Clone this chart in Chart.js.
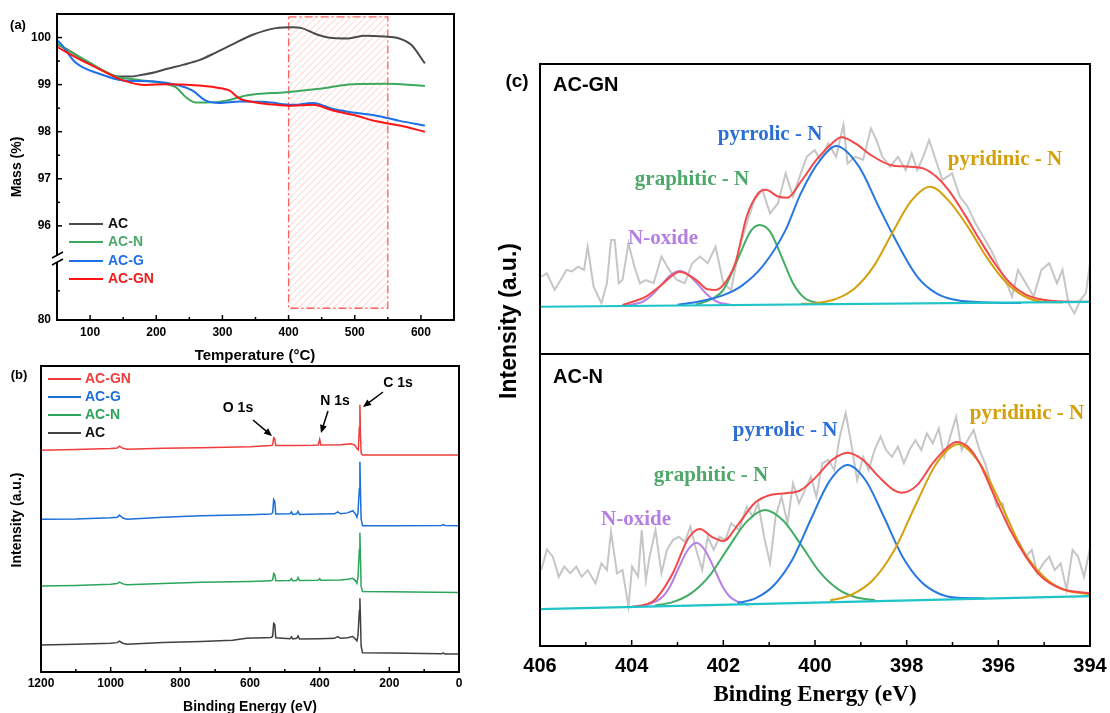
<!DOCTYPE html>
<html>
<head>
<meta charset="utf-8">
<script src="https://cdn.jsdelivr.net/npm/chart.js@4.4.1/dist/chart.umd.min.js"></script>
<style>
  body { margin: 0; background: #fff; width: 1110px; height: 713px; overflow: hidden; position: relative; }
  canvas { position: absolute; left: 0; top: 0; }
</style>
</head>
<body>
<canvas id="chartA" width="1110" height="713"></canvas>
<canvas id="chartB" width="1110" height="713"></canvas>
<canvas id="chartC1" width="1110" height="713"></canvas>
<canvas id="chartC2" width="1110" height="713"></canvas>
<script>
// ---------- (a) TGA ----------
var seriesA = ["AC", "AC-N", "AC-G", "AC-GN"];
var tempAC = [50,65,80,100,120,140,160,179,200,215,240,265,290,316,346,381,406,420,440,460,490,515,545,565,585,606];
var massAC = [99.86,99.75,99.62,99.45,99.29,99.18,99.17,99.21,99.27,99.33,99.42,99.52,99.68,99.86,100.06,100.20,100.22,100.20,100.08,100.0,99.98,100.04,100.02,99.99,99.85,99.45];
var tempACN = [50,65,80,100,120,140,174,215,230,245,260,275,306,336,396,447,497,548,606];
var massACN = [99.87,99.74,99.62,99.46,99.30,99.17,99.10,99.01,98.94,98.73,98.62,98.62,98.66,98.77,98.84,98.91,99.01,99.02,98.97];
var tempACG = [50,55,78,114,150,194,235,255,275,295,326,366,406,437,467,497,533,568,606];
var massACG = [99.94,99.88,99.47,99.23,99.09,99.07,98.98,98.87,98.66,98.61,98.64,98.63,98.57,98.61,98.48,98.41,98.34,98.23,98.13];
var tempACGN = [50,88,114,150,184,215,265,290,311,326,346,381,406,437,467,497,533,568,606];
var massACGN = [99.80,99.51,99.33,99.09,98.99,99.01,98.98,98.94,98.87,98.70,98.63,98.57,98.55,98.57,98.45,98.36,98.22,98.13,98.00];
var tempTicks = [100,200,300,400,500,600];
var tempMinor = [150,250,350,450,550];
// broken axis: 94 on the drawn scale stands for 80 %
var massTicks = [94,96,97,98,99,100];
var massTickLabels = ["80","96","97","98","99","100"];
var massMinor = [94.62,96.5,97.5,98.5,99.5];
var hatchTemp = [400,550];
var hatchMass = [94.25,100.44];

// ---------- (b) XPS survey ----------
var seriesB = ["AC-GN", "AC-G", "AC-N", "AC"];
var surveyGN = [[1200,72.5],[1100,72.7],[1000,73.0],[981,73.2],[975,73.8],[965,73.1],[953,72.8],[850,73.1],[741,73.3],[600,73.6],[540,74.0],[535,74.2],[532,76.6],[529,76.3],[526,74.0],[480,74.0],[420,74.1],[404,74.2],[400,76.0],[397,74.2],[340,74.3],[310,74.6],[300,74.2],[293,73.0],[289,72.6],[286,80],[284.5,87.3],[283,78],[281,71.5],[277,70.9],[200,70.9],[100,70.9],[0,70.9]];
var surveyG = [[1200,49.9],[1100,50.0],[1000,50.4],[981,50.6],[975,51.3],[965,50.3],[953,49.9],[850,50.6],[741,51.1],[600,51.4],[540,51.6],[535,52.0],[532,56.4],[529,55.8],[526,51.6],[485,51.7],[481,52.3],[477,51.5],[466,51.7],[462,52.5],[458,51.5],[400,51.6],[358,51.7],[348,52.3],[340,51.7],[320,52.0],[305,52.7],[297,51.6],[293,50.6],[290,52],[286,60],[284.5,68.7],[283,60],[281,50.0],[277,47.8],[200,47.8],[50,47.9],[45,48.2],[40,47.9],[0,47.8]];
var surveyN = [[1200,28.1],[1100,28.3],[1000,28.7],[981,28.9],[975,29.4],[965,28.8],[953,28.5],[850,28.9],[741,29.3],[600,29.6],[540,29.8],[535,30.1],[532,32.2],[529,31.9],[526,29.8],[485,29.9],[481,30.5],[477,29.8],[466,29.9],[462,30.9],[458,29.9],[404,30.0],[400,30.5],[396,30.0],[340,30.1],[320,30.3],[305,30.6],[297,29.8],[293,29.0],[290,31],[286,40],[284.5,45.5],[283,38],[281,28],[277,26.3],[200,26.2],[0,26.0]];
var surveyAC = [[1200,8.8],[1100,9.1],[1000,9.4],[981,9.6],[975,10.1],[965,9.4],[953,9.1],[850,9.6],[741,10.0],[650,10.4],[610,11.0],[590,11.1],[560,11.2],[540,11.3],[535,11.6],[532,15.9],[529,15.6],[526,11.2],[485,10.9],[481,11.5],[477,10.8],[466,11.0],[462,11.8],[458,10.8],[400,10.9],[358,11.0],[348,11.6],[340,11.0],[320,11.2],[305,11.6],[297,10.7],[293,10.2],[290,12],[286,20],[284.5,24.1],[283,18],[281,8.5],[277,6.3],[200,6.2],[50,6.0],[45,6.2],[40,5.9],[0,5.9]];
var beTicks = [0,200,400,600,800,1000,1200];
var beMinor = [100,300,500,700,900,1100];

// ---------- (c) N 1s high resolution ----------
var peakNames = ["N-oxide", "graphitic - N", "pyrrolic - N", "pyridinic - N"];
var topBE = [405.97,405.85,405.68,405.55,405.42,405.30,405.17,405.04,404.96,404.83,404.66,404.54,404.45,404.37,404.28,404.20,404.07,403.94,403.82,403.69,403.52,403.35,403.18,403.01,402.84,402.68,402.51,402.34,402.17,402.00,401.83,401.66,401.49,401.32,401.15,400.98,400.81,400.64,400.48,400.31,400.18,400.01,399.88,399.71,399.54,399.38,399.29,399.12,398.95,398.78,398.66,398.53,398.36,398.19,398.02,397.89,397.77,397.64,397.51,397.39,397.22,397.01,396.84,396.67,396.50,396.33,396.16,395.99,395.82,395.70,395.57,395.40,395.23,395.06,394.89,394.72,394.60,394.47,394.34,394.21,394.09,394.00];
var topRaw = [26.7,27.8,22.1,25.5,29.0,28.5,30.1,29.0,37.0,23.2,17.5,24.4,39.3,39.3,24.4,25.5,38.2,30.1,24.4,25.5,24.4,33.6,29.0,25.5,24.4,31.3,33.6,31.3,37.0,24.4,22.1,35.9,45.1,53.1,56.6,48.5,51.9,62.3,54.3,62.3,68.0,70.3,67.0,72.6,68.0,79.0,65.7,68.0,67.0,77.8,73.8,68.0,64.6,68.0,63.4,69.2,63.4,68.0,73.8,68.0,60.0,62.3,54.3,50.8,45.1,40.5,35.9,30.1,24.4,19.8,29.0,24.4,19.8,29.0,31.3,24.4,29.0,17.5,14.0,18.6,20.9,31.3];
var topBase = [[406,16.3],[394,18.0]];
var topOxide = [[404.15,16.6],[403.75,18.1],[403.55,20.4],[403.35,23.9],[403.15,27.2],[402.95,28.6],[402.75,27.2],[402.55,23.9],[402.35,20.4],[402.15,18.1],[401.75,16.7]];
var topGraphitic = [[402.6,17.0],[402.25,19.0],[402.0,22.1],[401.66,33.6],[401.41,42.2],[401.21,44.5],[400.98,42.2],[400.73,33.6],[400.48,24.4],[400.22,19.2],[399.88,17.5],[399.6,17.2]];
var topPyrrolic = [[403.0,17.0],[402.5,18.2],[402.0,20.3],[401.6,23.5],[401.15,30.1],[400.64,42.8],[400.31,55.4],[399.88,67.0],[399.54,71.7],[399.04,64.6],[398.61,50.8],[398.28,40.5],[397.77,26.7],[397.35,20.9],[396.92,18.6],[396.08,17.7],[395.5,17.6]];
var topPyridinic = [[400.3,17.3],[399.95,17.6],[399.54,19.0],[399.13,22.7],[398.72,30.2],[398.31,41.9],[397.9,52.8],[397.49,57.7],[397.08,52.8],[396.67,44.0],[396.26,33.5],[395.85,25.0],[395.44,20.0],[395.03,18.0],[394.6,17.8]];
var topEnvelope = [[404.2,16.9],[403.69,19.8],[403.35,23.8],[402.95,28.4],[402.59,25.5],[402.34,22.3],[402.17,22.1],[402.0,23.8],[401.74,31.3],[401.49,47.4],[401.24,55.4],[401.07,56.6],[400.81,54.3],[400.6,53.9],[400.31,59.4],[399.97,66.9],[399.63,72.6],[399.42,74.7],[399.12,72.6],[398.78,68.6],[398.36,65.2],[397.94,64.6],[397.64,64.0],[397.35,61.1],[397.09,56.6],[396.75,48.5],[396.41,39.5],[396.08,31.3],[395.74,24.4],[395.4,20.5],[394.98,18.6],[394.38,18.0],[394.0,18.0]];

var botBE = [405.97,405.85,405.72,405.59,405.47,405.34,405.21,405.09,404.96,404.79,404.66,404.54,404.45,404.32,404.20,404.07,403.99,403.86,403.78,403.69,403.61,403.48,403.35,403.23,403.10,402.97,402.84,402.72,402.59,402.46,402.34,402.21,402.08,401.96,401.83,401.66,401.49,401.36,401.24,401.11,400.98,400.86,400.73,400.60,400.48,400.35,400.22,400.09,399.97,399.84,399.71,399.58,399.46,399.33,399.21,399.08,398.95,398.83,398.70,398.57,398.45,398.32,398.19,398.06,397.94,397.81,397.68,397.56,397.43,397.30,397.18,397.05,396.92,396.80,396.67,396.54,396.41,396.29,396.16,396.03,395.91,395.78,395.65,395.53,395.40,395.27,395.15,395.02,394.89,394.77,394.64,394.51,394.38,394.26,394.13,394.00];
var botRaw = [26.0,33.1,30.6,23.7,27.2,24.9,27.2,23.7,26.0,21.5,28.3,26.0,39.2,24.9,26.0,13.5,27.2,23.7,39.7,22.6,30.6,39.7,24.9,32.9,36.3,37.4,35.7,40.9,32.9,26.0,37.4,32.9,37.4,36.3,42.0,39.7,47.7,44.3,48.9,37.4,28.3,44.3,51.1,42.0,55.7,48.9,53.4,58.0,51.1,62.6,63.7,60.3,71.7,79.7,69.4,56.8,64.8,60.3,67.1,71.7,67.1,64.8,68.3,62.6,67.1,70.5,67.1,72.8,69.4,74.5,64.8,71.7,78.5,67.1,70.5,74.0,67.1,62.6,55.7,47.7,48.9,40.9,37.4,35.2,30.6,32.9,24.9,28.3,30.6,26.0,28.3,19.2,32.9,30.6,23.7,33.4];
var botBase = [[406,12.6],[394,17.1]];
var botOxide = [[403.73,13.7],[403.35,16.5],[403.16,20.5],[402.97,26.9],[402.78,32.8],[402.59,35.4],[402.40,32.8],[402.21,26.9],[402.02,20.5],[401.83,16.5],[401.45,14.0]];
var botGraphitic = [[403.49,13.9],[403.09,15.1],[402.69,18.2],[402.29,24.3],[401.89,33.7],[401.49,42.6],[401.09,46.6],[400.69,42.9],[400.29,34.3],[399.89,25.2],[399.49,19.4],[399.09,16.6],[398.69,15.7]];
var botPyrrolic = [[401.69,14.7],[401.29,16.4],[400.89,20.9],[400.49,29.7],[400.09,43.4],[399.69,56.3],[399.29,62.0],[398.89,56.6],[398.49,44.0],[398.09,30.6],[397.69,22.1],[397.29,17.9],[396.89,16.5],[396.3,16.3]];
var botPyridinic = [[399.67,15.6],[399.21,17.5],[398.74,22.5],[398.28,32.5],[397.81,48.1],[397.35,62.5],[396.88,69.1],[396.42,62.9],[395.95,48.8],[395.49,33.5],[395.02,23.9],[394.56,19.2],[394.0,17.7]];
var botEnvelope = [[404.03,13.3],[403.52,15.5],[403.1,25.0],[402.76,37.0],[402.51,40.1],[402.25,37.4],[402.0,36.0],[401.66,42.0],[401.32,48.9],[400.98,51.7],[400.64,52.3],[400.31,53.4],[399.97,58.0],[399.63,63.7],[399.29,66.2],[398.95,63.7],[398.61,58.0],[398.28,53.4],[398.11,52.5],[397.77,55.1],[397.43,62.6],[397.09,68.3],[396.92,69.9],[396.67,68.3],[396.41,62.6],[396.08,51.1],[395.74,39.7],[395.4,30.6],[395.06,23.7],[394.64,19.7],[394.0,18.0]];
var hrTicks = [394,396,398,400,402,404,406];
var hrMinor = [395,397,399,401,403,405];

var SANS = '"Liberation Sans", Arial, sans-serif';
var SERIF = '"Liberation Serif", "Times New Roman", serif';

function xy(xs, ys) { return xs.map(function (x, i) { return { x: x, y: ys[i] }; }); }
function pts(p) { return p.map(function (d) { return { x: d[0], y: d[1] }; }); }
function plain(v) { return String(v); }

// scale with a fixed box size (labels are clipped to the box, so it must hold them)
function axis(extra, size) {
  return Object.assign({
    type: 'linear',
    grid: { display: false, drawTicks: false },
    border: { display: false },
    afterFit: function (s) {
      if (s.isHorizontal()) { s.height = size || 0; s.paddingLeft = 0; s.paddingRight = 0; }
      else { s.width = size || 0; s.paddingTop = 0; s.paddingBottom = 0; }
    }
  }, extra);
}

function drawText(ctx, t) {
  ctx.save();
  ctx.font = t.font;
  ctx.fillStyle = t.color || '#000';
  ctx.textAlign = t.align || 'center';
  ctx.textBaseline = 'middle';
  ctx.translate(t.x, t.y);
  if (t.rot) ctx.rotate(t.rot);
  ctx.fillText(t.t, 0, 0);
  ctx.restore();
}

// frame, inward ticks, free text, extra drawing
function decor(spec) {
  return {
    id: 'decor',
    beforeDatasetsDraw: function (chart) { if (spec.under) spec.under(chart); },
    afterDraw: function (chart) {
      var ctx = chart.ctx, a = chart.chartArea;
      ctx.save();
      ctx.strokeStyle = '#000';
      ctx.lineWidth = 2;
      ctx.strokeRect(a.left, a.top, a.right - a.left, a.bottom - a.top);
      (spec.ticks || []).forEach(function (t) {
        var s = chart.scales[t.axis];
        ctx.lineWidth = 1.5;
        t.values.forEach(function (v) {
          var p = s.getPixelForValue(v);
          ctx.beginPath();
          if (t.axis === 'x') { ctx.moveTo(p, a.bottom); ctx.lineTo(p, a.bottom - t.len); }
          else { ctx.moveTo(a.left, p); ctx.lineTo(a.left + t.len, p); }
          ctx.stroke();
        });
      });
      ctx.restore();
      if (spec.over) spec.over(chart);
      (spec.texts || []).forEach(function (t) { drawText(ctx, t); });
    }
  };
}

// area = [left, top, right, bottom] of the plot box on the page
function baseOptions(area, scales, xH, yW) {
  return {
    responsive: false,
    animation: false,
    devicePixelRatio: 1,
    events: [],
    layout: { padding: { left: area[0] - (yW || 0), top: area[1], right: 1110 - area[2], bottom: 713 - area[3] - (xH || 0) } },
    plugins: { legend: { display: false }, tooltip: { enabled: false } },
    elements: { point: { radius: 0 }, line: { borderWidth: 2 } },
    scales: scales
  };
}

function arrow(ctx, x0, y0, x1, y1) {
  var ang = Math.atan2(y1 - y0, x1 - x0);
  ctx.save();
  ctx.strokeStyle = '#000'; ctx.fillStyle = '#000'; ctx.lineWidth = 1.5;
  ctx.beginPath(); ctx.moveTo(x0, y0);
  ctx.lineTo(x1 - 6 * Math.cos(ang), y1 - 6 * Math.sin(ang)); ctx.stroke();
  ctx.beginPath();
  ctx.moveTo(x1, y1);
  ctx.lineTo(x1 - 8 * Math.cos(ang) + 3.5 * Math.sin(ang), y1 - 8 * Math.sin(ang) - 3.5 * Math.cos(ang));
  ctx.lineTo(x1 - 8 * Math.cos(ang) - 3.5 * Math.sin(ang), y1 - 8 * Math.sin(ang) + 3.5 * Math.cos(ang));
  ctx.closePath(); ctx.fill();
  ctx.restore();
}

// ---------- chart (a) ----------
var colorsA = ['#4a4a4a', '#3da95c', '#1d6fe8', '#ff1414'];
var legendColorsA = ['#111', '#4aa86a', '#1f6fe6', '#ee1c1c'];
new Chart(document.getElementById('chartA'), {
  type: 'line',
  data: {
    datasets: [
      { label: seriesA[3], data: xy(tempACGN, massACGN), borderColor: colorsA[3], cubicInterpolationMode: 'monotone' },
      { label: seriesA[2], data: xy(tempACG, massACG), borderColor: colorsA[2], cubicInterpolationMode: 'monotone' },
      { label: seriesA[1], data: xy(tempACN, massACN), borderColor: colorsA[1], cubicInterpolationMode: 'monotone' },
      { label: seriesA[0], data: xy(tempAC, massAC), borderColor: colorsA[0], cubicInterpolationMode: 'monotone' }
    ]
  },
  options: baseOptions([57, 14, 454, 320], {
    x: axis({ min: 50, max: 650,
      afterBuildTicks: function (s) { s.ticks = tempTicks.map(function (v) { return { value: v }; }); },
      ticks: { padding: 5, maxRotation: 0, autoSkip: false, color: '#000', callback: plain,
        font: { family: SANS, size: 12, weight: 'bold' } } }, 26),
    y: axis({ min: 94, max: 100.5,
      afterBuildTicks: function (s) { s.ticks = massTicks.map(function (v) { return { value: v }; }); },
      ticks: { padding: 6, autoSkip: false, color: '#000', font: { family: SANS, size: 12, weight: 'bold' },
        callback: function (v, i) { return massTickLabels[i]; } } }, 30)
  }, 26, 30),
  plugins: [decor({
    ticks: [
      { axis: 'x', values: tempTicks, len: 5 }, { axis: 'x', values: tempMinor, len: 3 },
      { axis: 'y', values: massTicks, len: 5 }, { axis: 'y', values: massMinor, len: 3 }
    ],
    texts: [
      { t: '(a)', x: 18, y: 25, font: 'bold 13px ' + SANS },
      { t: 'Mass (%)', x: 17, y: 167, rot: -Math.PI / 2, font: 'bold 14px ' + SANS },
      { t: 'Temperature (°C)', x: 255, y: 356, font: 'bold 15px ' + SANS }
    ],
    under: function (chart) {
      var ctx = chart.ctx, sx = chart.scales.x, sy = chart.scales.y;
      var x0 = sx.getPixelForValue(hatchTemp[0]), x1 = sx.getPixelForValue(hatchTemp[1]);
      var y0 = sy.getPixelForValue(hatchMass[1]), y1 = sy.getPixelForValue(hatchMass[0]);
      ctx.save();
      ctx.beginPath(); ctx.rect(x0, y0, x1 - x0, y1 - y0); ctx.clip();
      ctx.strokeStyle = 'rgba(255,110,110,0.38)'; ctx.lineWidth = 1;
      ctx.beginPath();
      for (var k = x0 - (y1 - y0); k < x1; k += 7) { ctx.moveTo(k, y1); ctx.lineTo(k + (y1 - y0), y0); }
      ctx.stroke();
      ctx.restore();
      ctx.save();
      ctx.setLineDash([8, 3, 2, 3]);
      ctx.strokeStyle = '#ff5e5e'; ctx.lineWidth = 1.3;
      ctx.strokeRect(x0, y0, x1 - x0, y1 - y0);
      ctx.restore();
    },
    over: function (chart) {
      var ctx = chart.ctx;
      // axis break
      ctx.save();
      ctx.fillStyle = '#fff'; ctx.fillRect(54, 256, 7, 6);
      ctx.strokeStyle = '#000'; ctx.lineWidth = 1.5;
      ctx.beginPath(); ctx.moveTo(52, 258); ctx.lineTo(63, 252); ctx.moveTo(52, 265); ctx.lineTo(63, 259); ctx.stroke();
      // legend
      var ly = [224, 242, 261, 279];
      seriesA.forEach(function (name, i) {
        ctx.strokeStyle = colorsA[i]; ctx.lineWidth = 2;
        ctx.beginPath(); ctx.moveTo(69, ly[i]); ctx.lineTo(103, ly[i]); ctx.stroke();
        drawText(ctx, { t: name, x: 108, y: ly[i], align: 'left', color: legendColorsA[i], font: 'bold 14px ' + SANS });
      });
      ctx.restore();
    }
  })]
});

// ---------- chart (b) ----------
var colorsB = ['#f03c3c', '#1a6fd8', '#2aa55a', '#404040'];
var legendColorsB = ['#f03c3c', '#1a6fd8', '#2aa55a', '#111'];
new Chart(document.getElementById('chartB'), {
  type: 'line',
  data: {
    datasets: [
      { label: seriesB[0], data: pts(surveyGN), borderColor: colorsB[0], borderWidth: 1.5 },
      { label: seriesB[1], data: pts(surveyG), borderColor: colorsB[1], borderWidth: 1.5 },
      { label: seriesB[2], data: pts(surveyN), borderColor: colorsB[2], borderWidth: 1.5 },
      { label: seriesB[3], data: pts(surveyAC), borderColor: colorsB[3], borderWidth: 1.5 }
    ]
  },
  options: baseOptions([41, 366, 459, 672], {
    x: axis({ min: 0, max: 1200, reverse: true,
      afterBuildTicks: function (s) { s.ticks = beTicks.map(function (v) { return { value: v }; }); },
      ticks: { padding: 4, maxRotation: 0, autoSkip: false, color: '#000', callback: plain,
        font: { family: SANS, size: 12, weight: 'bold' } } }, 24),
    y: axis({ min: 0, max: 100, display: false })
  }, 24, 0),
  plugins: [decor({
    ticks: [{ axis: 'x', values: beTicks, len: 5 }, { axis: 'x', values: beMinor, len: 3 }],
    texts: [
      { t: '(b)', x: 19, y: 375, font: 'bold 13px ' + SANS },
      { t: 'Intensity (a.u.)', x: 17, y: 520, rot: -Math.PI / 2, font: 'bold 14px ' + SANS },
      { t: 'Binding Energy (eV)', x: 250, y: 707, font: 'bold 14px ' + SANS },
      { t: 'O 1s', x: 238, y: 408, font: 'bold 14px ' + SANS },
      { t: 'N 1s', x: 335, y: 401, font: 'bold 14px ' + SANS },
      { t: 'C 1s', x: 398, y: 383, font: 'bold 14px ' + SANS }
    ],
    over: function (chart) {
      var ctx = chart.ctx;
      arrow(ctx, 253, 420, 272, 436);
      arrow(ctx, 328, 411, 321, 433);
      arrow(ctx, 383, 392, 363, 407);
      var ly = [379, 397, 415, 433];
      seriesB.forEach(function (name, i) {
        ctx.save();
        ctx.strokeStyle = colorsB[i]; ctx.lineWidth = 2;
        ctx.beginPath(); ctx.moveTo(48, ly[i]); ctx.lineTo(81, ly[i]); ctx.stroke();
        ctx.restore();
        drawText(ctx, { t: name, x: 85, y: ly[i], align: 'left', color: legendColorsB[i], font: 'bold 14px ' + SANS });
      });
    }
  })]
});

// ---------- chart (c) ----------
var cCol = { raw: '#c6c6c6', env: '#f24a4a', oxide: '#b67fe3', graphitic: '#43ad66', pyrrolic: '#2878e0', pyridinic: '#d4a00e', base: '#1ec4c8' };
var cText = { oxide: '#b47fe0', graphitic: '#4ea86a', pyrrolic: '#2b6fd6', pyridinic: '#d39f0a' };

function hrDatasets(be, raw, base, oxide, graphitic, pyrrolic, pyridinic, env) {
  var smooth = { cubicInterpolationMode: 'monotone' };
  return [
    { label: 'baseline', data: pts(base), borderColor: cCol.base, borderWidth: 2.2 },
    Object.assign({ label: 'fit', data: pts(env), borderColor: cCol.env }, smooth),
    Object.assign({ label: peakNames[3], data: pts(pyridinic), borderColor: cCol.pyridinic }, smooth),
    Object.assign({ label: peakNames[2], data: pts(pyrrolic), borderColor: cCol.pyrrolic }, smooth),
    Object.assign({ label: peakNames[1], data: pts(graphitic), borderColor: cCol.graphitic }, smooth),
    Object.assign({ label: peakNames[0], data: pts(oxide), borderColor: cCol.oxide }, smooth),
    { label: 'raw', data: xy(be, raw), borderColor: cCol.raw, borderWidth: 2 }
  ];
}

var hrX = { min: 394, max: 406, reverse: true,
  afterBuildTicks: function (s) { s.ticks = hrTicks.map(function (v) { return { value: v }; }); },
  ticks: { padding: 8, maxRotation: 0, autoSkip: false, color: '#000', callback: plain,
    font: { family: SANS, size: 20, weight: 'bold' } } };

new Chart(document.getElementById('chartC1'), {
  type: 'line',
  data: { datasets: hrDatasets(topBE, topRaw, topBase, topOxide, topGraphitic, topPyrrolic, topPyridinic, topEnvelope) },
  options: baseOptions([540, 64, 1090, 354], {
    x: axis(Object.assign({}, hrX, { display: false })),
    y: axis({ min: 0, max: 100, display: false })
  }, 0, 0),
  plugins: [decor({
    texts: [
      { t: '(c)', x: 517, y: 82, font: 'bold 19px ' + SANS },
      { t: 'Intensity (a.u.)', x: 510, y: 321, rot: -Math.PI / 2, font: 'bold 23px ' + SANS },
      { t: 'AC-GN', x: 553, y: 85, align: 'left', font: 'bold 20px ' + SANS },
      { t: peakNames[2], x: 770, y: 135, color: cText.pyrrolic, font: 'bold 21px ' + SERIF },
      { t: peakNames[1], x: 692, y: 180, color: cText.graphitic, font: 'bold 21px ' + SERIF },
      { t: peakNames[0], x: 663, y: 239, color: cText.oxide, font: 'bold 21px ' + SERIF },
      { t: peakNames[3], x: 1005, y: 160, color: cText.pyridinic, font: 'bold 21px ' + SERIF }
    ]
  })]
});

new Chart(document.getElementById('chartC2'), {
  type: 'line',
  data: { datasets: hrDatasets(botBE, botRaw, botBase, botOxide, botGraphitic, botPyrrolic, botPyridinic, botEnvelope) },
  options: baseOptions([540, 354, 1090, 646], {
    x: axis(hrX, 36),
    y: axis({ min: 0, max: 100, display: false })
  }, 36, 0),
  plugins: [decor({
    ticks: [{ axis: 'x', values: hrTicks, len: 6 }, { axis: 'x', values: hrMinor, len: 4 }],
    texts: [
      { t: 'AC-N', x: 553, y: 377, align: 'left', font: 'bold 20px ' + SANS },
      { t: peakNames[3], x: 1027, y: 414, color: cText.pyridinic, font: 'bold 21px ' + SERIF },
      { t: peakNames[2], x: 785, y: 431, color: cText.pyrrolic, font: 'bold 21px ' + SERIF },
      { t: peakNames[1], x: 711, y: 476, color: cText.graphitic, font: 'bold 21px ' + SERIF },
      { t: peakNames[0], x: 636, y: 520, color: cText.oxide, font: 'bold 21px ' + SERIF },
      { t: 'Binding Energy (eV)', x: 815, y: 695, font: 'bold 23px ' + SERIF }
    ]
  })]
});
</script>
</body>
</html>
